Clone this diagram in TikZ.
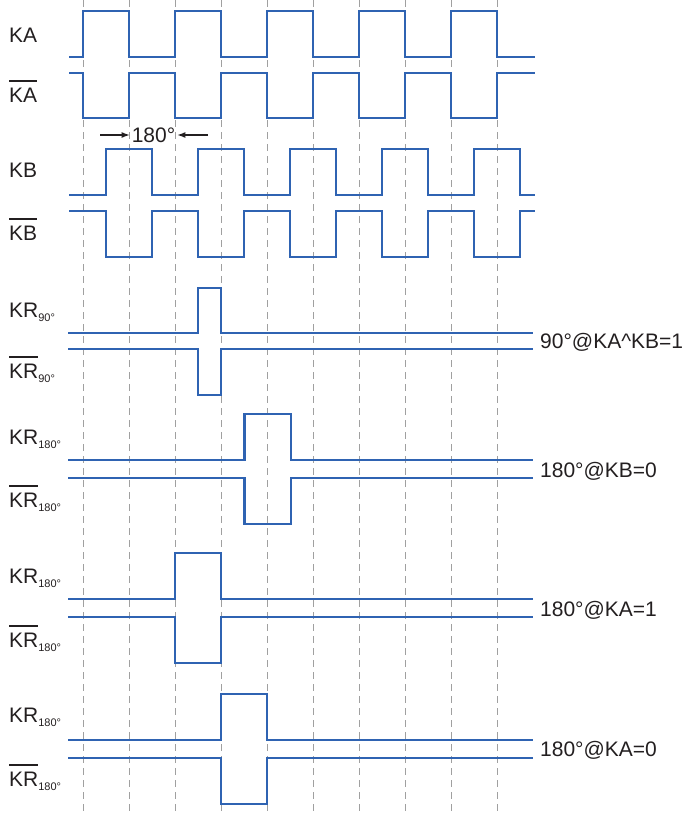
\documentclass[tikz,border=0pt]{standalone}
\usepackage{fontspec}
\setmainfont{Liberation Sans}
\usepackage{tikz}
\usetikzlibrary{arrows.meta,calc,positioning}
\definecolor{sigblue}{RGB}{47,99,178}
\definecolor{gridgray}{RGB}{160,160,160}
\definecolor{txtdark}{RGB}{35,31,32}
\newcommand{\barsig}[1]{\setbox0=\hbox{#1}\rlap{\raisebox{\dimexpr\ht0+6pt\relax}{\rule{\wd0}{1.4pt}}}\box0}
\newcommand{\subdeg}[1]{\raisebox{-4pt}{\fontsize{11}{12}\selectfont #1}}

\begin{document}
\begin{tikzpicture}[x=1pt, y=-1pt]
	\tikzstyle{every node} = [inner sep = 0pt, text = txtdark, font = \fontsize{21}{25}\selectfont]
	\tikzstyle{lbl} = [anchor = base west]
	\tikzstyle{wave} = [draw = sigblue, line width = 2.9pt]
	\tikzstyle{grid} = [draw = gridgray, line width = 0.9pt, dash pattern = on 7pt off 5pt]
	\useasboundingbox (0, 0) rectangle (690, 814);
	% dashed time marks
	\path[grid] (83, 0) -- (83, 814);
	\path[grid] (129, 0) -- (129, 814);
	\path[grid] (175, 0) -- (175, 814);
	\path[grid] (221, 0) -- (221, 814);
	\path[grid] (267, 0) -- (267, 814);
	\path[grid] (313, 0) -- (313, 814);
	\path[grid] (359, 0) -- (359, 814);
	\path[grid] (405, 0) -- (405, 814);
	\path[grid] (451, 0) -- (451, 814);
	\path[grid] (497, 0) -- (497, 814);
	% signal names
\node[lbl] (ka) at (9, 42) {KA};
\node[lbl] (kabar) at (9, 102) {\barsig{KA}};
\node[lbl] (kb) at (9, 177) {KB};
\node[lbl] (kbbar) at (9, 240) {\barsig{KB}};
\node[lbl] (kr90) at (9, 317) {KR\subdeg{90°}};
\node[lbl] (kr90bar) at (9, 378) {\barsig{KR}\subdeg{90°}};
\node[lbl] (kra) at (9, 444) {KR\subdeg{180°}};
\node[lbl] (krabar) at (9, 507) {\barsig{KR}\subdeg{180°}};
\node[lbl] (krb) at (9, 583) {KR\subdeg{180°}};
\node[lbl] (krbbar) at (9, 647) {\barsig{KR}\subdeg{180°}};
\node[lbl] (krc) at (9, 722) {KR\subdeg{180°}};
\node[lbl] (krcbar) at (9, 786) {\barsig{KR}\subdeg{180°}};
	% conditions
\node[lbl] (c90) at (540, 348) {90°@KA\textasciicircum KB=1};
\node[lbl] (ckb0) at (540, 477) {180°@KB=0};
\node[lbl] (cka1) at (540, 616) {180°@KA=1};
\node[lbl] (cka0) at (540, 756) {180°@KA=0};
	% phase shift
\node[inner sep = 2pt] (deg) at (153.5, 135) {180°};
\coordinate (degl) at (100, 135);
\coordinate (degr) at (208, 135);
	\path[draw, txtdark, line width = 1.1pt, -{Latex[length=8pt, width=6pt]}] (degl) -- (deg.west);
	\path[draw, txtdark, line width = 1.1pt, -{Latex[length=8pt, width=6pt]}] (degr) -- (deg.east);
	% KA, KB
	\path[wave] (69, 57) -| (83, 11) -| (129, 57) -| (175, 11) -| (221, 57) -| (267, 11) -| (313, 57) -| (359, 11) -| (405, 57) -| (451, 11) -| (497, 57) -- (535, 57);
	\path[wave] (69, 73) -| (83, 118) -| (129, 73) -| (175, 118) -| (221, 73) -| (267, 118) -| (313, 73) -| (359, 118) -| (405, 73) -| (451, 118) -| (497, 73) -- (535, 73);
	\path[wave] (69, 195) -| (106, 149) -| (152, 195) -| (198, 149) -| (244, 195) -| (290, 149) -| (336, 195) -| (382, 149) -| (428, 195) -| (474, 149) -| (520, 195) -- (535, 195);
	\path[wave] (69, 211) -| (106, 257) -| (152, 211) -| (198, 257) -| (244, 211) -| (290, 257) -| (336, 211) -| (382, 257) -| (428, 211) -| (474, 257) -| (520, 211) -- (535, 211);
	% reference pulses
	\path[wave] (68, 333) -| (198, 288) -| (221, 333) -- (533, 333);
	\path[wave] (68, 349) -| (198, 395) -| (221, 349) -- (533, 349);
	\path[wave] (68, 460) -| (244.5, 414) -| (291, 460) -- (533, 460);
	\path[wave] (68, 478) -| (244.5, 524) -| (291, 478) -- (533, 478);
	\path[wave] (68, 599) -| (175, 553) -| (221, 599) -- (533, 599);
	\path[wave] (68, 617) -| (175, 663) -| (221, 617) -- (533, 617);
	\path[wave] (68, 740) -| (221, 694) -| (267, 740) -- (533, 740);
	\path[wave] (68, 758) -| (221, 804) -| (267, 758) -- (533, 758);
	\end{tikzpicture}
\end{document}
